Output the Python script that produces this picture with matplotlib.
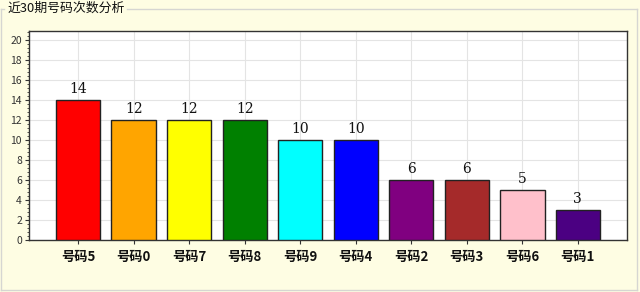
import matplotlib
matplotlib.use("Agg")
import matplotlib.pyplot as plt
from matplotlib.lines import Line2D
from matplotlib.ticker import MultipleLocator

plt.rcParams['font.family'] = ['Noto Sans CJK SC', 'DejaVu Sans']

title = "近30期号码次数分析"
categories = ["号码5", "号码0", "号码7", "号码8", "号码9", "号码4", "号码2", "号码3", "号码6", "号码1"]
values = [14, 12, 12, 12, 10, 10, 6, 6, 5, 3]
colors = ["#FF0000", "#FFA500", "#FFFF00", "#008000", "#00FFFF",
          "#0000FF", "#800080", "#A52A2A", "#FFC0CB", "#4B0082"]

bg = "#FEFDE3"
fig = plt.figure(figsize=(6.4, 2.92), dpi=100, facecolor=bg)
W, H = 640, 292

ax = fig.add_axes([29 / W, 1 - 240 / H, (627 - 29) / W, (240 - 31) / H])
ax.set_facecolor("white")
x = list(range(len(categories)))
ax.bar(x, values, width=0.8, color=colors, edgecolor="#222222", linewidth=1.0, zorder=3)
for xi, v in zip(x, values):
    ax.text(xi, v + 0.4, str(v), ha="center", va="bottom", fontsize=10,
            family=["DejaVu Serif"], color="#111111", zorder=4)

ax.set_xlim(-0.885, len(categories) - 1 + 0.885)
ax.set_ylim(0, 20.9)
ax.yaxis.set_major_locator(MultipleLocator(2))
ax.yaxis.set_minor_locator(MultipleLocator(0.4))
ax.set_xticks(x)
ax.set_xticklabels(categories, fontsize=9.5, fontweight="bold", color="#111111")
ax.tick_params(axis="y", labelsize=7.5, colors="#333333", length=3, width=0.8, pad=2)
ax.tick_params(axis="y", which="minor", length=1.5, width=0.6, colors="#333333")
ax.tick_params(axis="x", length=3, width=0.8, pad=4, colors="#333333")
for lab in ax.get_xticklabels():
    lab.set_color("#111111")
ax.grid(True, color="#E4E4E4", linewidth=0.8, zorder=0)
ax.set_axisbelow(True)
for s in ax.spines.values():
    s.set_color("#333333")
    s.set_linewidth(1.0)

# group box frame
gc = "#D6D6D2"
fig.add_artist(Line2D([127 / W, 637 / W], [1 - 9 / H, 1 - 9 / H], color=gc, lw=1.0, transform=fig.transFigure))
fig.add_artist(Line2D([1 / W, 4 / W], [1 - 9 / H, 1 - 9 / H], color=gc, lw=1.0, transform=fig.transFigure))
fig.add_artist(Line2D([1 / W, 1 / W], [1 - 9 / H, 1 - 290 / H], color=gc, lw=1.0, transform=fig.transFigure))
fig.add_artist(Line2D([1 / W, 637 / W], [1 - 290 / H, 1 - 290 / H], color=gc, lw=1.0, transform=fig.transFigure))
fig.add_artist(Line2D([637 / W, 637 / W], [1 - 9 / H, 1 - 290 / H], color=gc, lw=1.0, transform=fig.transFigure))

fig.text(7 / W, 1 - 8.5 / H, title, fontsize=9.3, ha="left", va="center", color="#111111")

fig.savefig("out.png", dpi=100, facecolor=bg)
